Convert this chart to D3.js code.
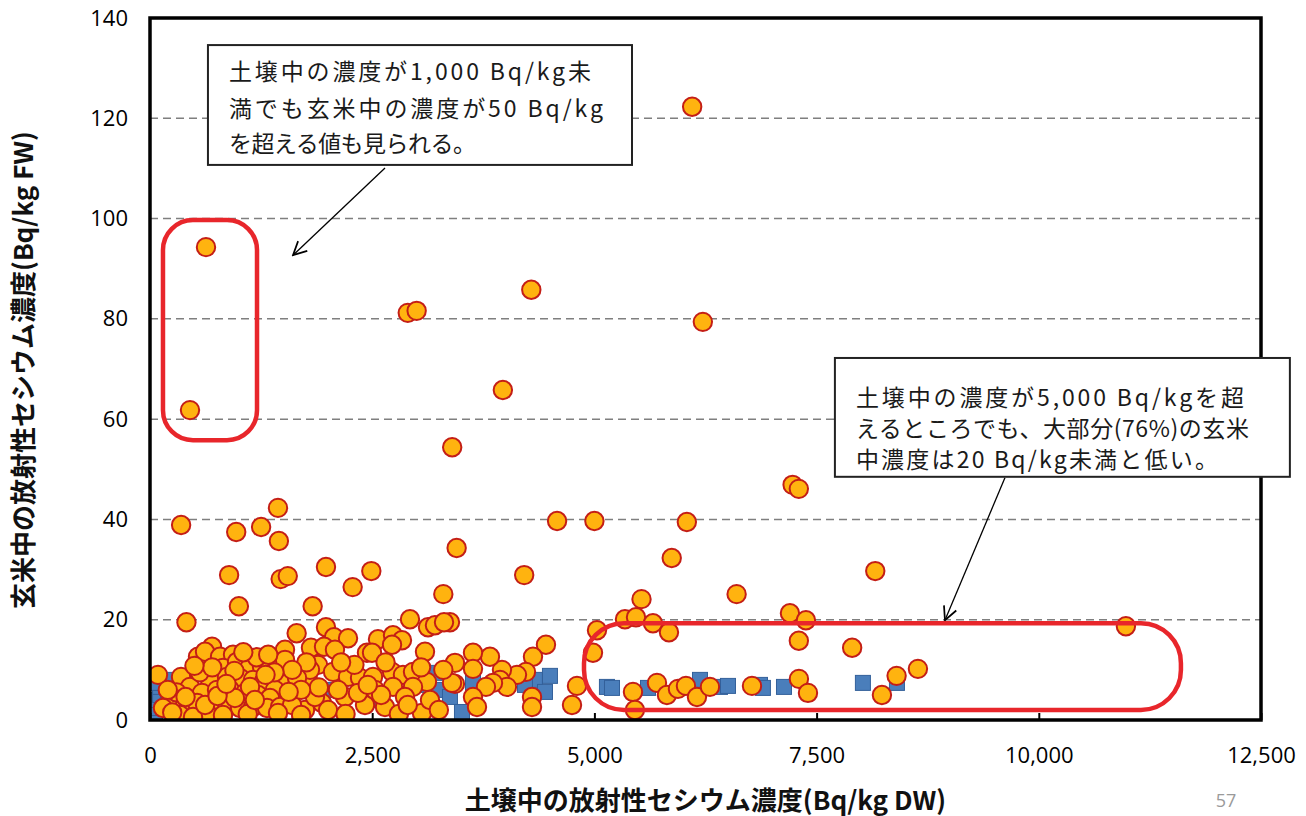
<!DOCTYPE html>
<html>
<head>
<meta charset="utf-8">
<script src="https://cdn.jsdelivr.net/npm/d3@7"></script>
<style>
	body { margin: 0; background: #fff; }
	text { font-family: "Open Sans", "Noto Sans", sans-serif; }
	.jp { font-family: "Noto Sans CJK JP", "Noto Sans", sans-serif; }
</style>
</head>
<body>
<svg id="chart" width="1306" height="816"></svg>
<script>
// Data ======================================================================

var xTicks = [0, 2500, 5000, 7500, 10000, 12500];
var yTicks = [0, 20, 40, 60, 80, 100, 120, 140];
var gridValues = [20, 40, 60, 80, 100, 120];

var xTitle = "土壌中の放射性セシウム濃度(Bq/kg DW)";
var yTitle = "玄米中の放射性セシウム濃度(Bq/kg FW)";
var pageNumber = "57";

var note1Lines = ["土壌中の濃度が1,000 Bq/kg未", "満でも玄米中の濃度が50 Bq/kg", "を超える値も見られる。"];
var note2Lines = ["土壌中の濃度が5,000 Bq/kgを超", "えるところでも、大部分(76%)の玄米", "中濃度は20 Bq/kg未満と低い。"];

// soil Bq/kg DW, rice Bq/kg FW
var squareData = [
	[56, 1.0], [79, 2.4], [90, 4.0], [113, 5.0], [113, 6.6], [225, 6.6], [225, 8.0],
	[60, 7.4], [200, 3.0], [300, 2.0], [500, 4.0], [1500, 5.0], [2000, 6.0], [2600, 4.0],
	[3000, 7.0], [3206, 9.4], [3240, 6.0], [3634, 7.4], [3375, 4.6], [3510, 1.6],
	[4331, 8.0], [4500, 8.8], [4444, 5.6], [4219, 7.0], [5141, 6.6], [5198, 6.4],
	[5603, 6.4], [6188, 8.0], [6413, 6.6], [6503, 6.8], [6863, 7.0], [6896, 6.4],
	[7133, 6.6], [8021, 7.4], [8404, 7.4]
];

var circleData = [
	// scattered high values
	[6100, 122.3], [630, 94.3], [450, 61.8], [2900, 81.2], [3000, 81.6], [4290, 85.8],
	[6220, 79.4], [3970, 65.8], [3400, 54.4], [350, 38.9], [1440, 42.3], [1450, 35.7],
	[970, 37.5], [1250, 38.5], [3450, 34.3], [4580, 39.7], [5000, 39.7], [6040, 39.5],
	[7230, 46.9], [7300, 46.1], [8160, 29.7], [5870, 32.3], [4210, 28.9], [1980, 30.5],
	[2490, 29.7], [2280, 26.5], [890, 28.9], [1000, 22.7], [1470, 28.1], [1550, 28.7],
	[1830, 22.7], [410, 19.5], [3300, 25.1], [6600, 25.1], [5530, 24.1], [7200, 21.3],
	[7380, 19.9], [7300, 15.8], [7900, 14.4], [10980, 18.7], [8640, 10.2], [8400, 8.8],
	[8235, 5.0],
	// 5,000 - 7,500
	[5344, 20.1], [5468, 20.5], [5659, 19.3], [5839, 17.5], [5434, 5.6], [5456, 2.0],
	[5704, 7.4], [5816, 5.0], [5940, 6.2], [6030, 6.8], [6154, 4.6], [6300, 6.6],
	[6773, 6.8], [7301, 8.2], [7403, 5.4],
	// 3,300 - 5,000
	[5029, 17.9], [4984, 13.4], [4804, 6.8], [4748, 3.0], [4455, 15.0], [4309, 12.6],
	[4230, 9.6], [4129, 9.0], [4298, 4.6], [4298, 2.6], [3960, 10.0], [3938, 8.0],
	[3825, 12.6], [4016, 6.6], [3859, 7.4], [3780, 6.6], [3634, 13.4], [3634, 10.2],
	[3431, 11.4], [3431, 7.2], [3634, 4.6], [3679, 2.6], [3375, 19.5],
	// 1,600 - 3,300
	[2925, 20.1], [3128, 18.5], [3206, 18.9], [3308, 19.5], [1980, 18.5], [2070, 16.5],
	[2228, 16.3], [2565, 16.1], [2734, 16.9], [2835, 15.9], [2723, 15.0], [1811, 14.4],
	[1958, 14.6], [2081, 14.0], [2441, 13.4], [2498, 13.4], [3094, 13.6], [1890, 11.0],
	[1778, 8.0], [2059, 9.6], [2228, 8.6], [2363, 8.4], [2509, 8.6], [2723, 9.6],
	[2846, 9.0], [2959, 9.6], [3116, 7.6], [2734, 6.6], [2959, 6.6], [2194, 4.6],
	[2419, 3.0], [2644, 2.6], [1935, 3.4], [1744, 2.0], [3060, 1.4], [3150, 4.0],
	[3398, 7.4], [2115, 6.0], [2340, 5.4], [2531, 6.0], [2869, 4.6], [1856, 4.6],
	[2003, 2.0], [2300, 11.0], [2650, 11.5], [3300, 10.0], [3250, 2.0], [2600, 5.0],
	[2800, 1.2], [2200, 1.2], [1900, 6.5], [2450, 7.0], [2900, 3.0], [3050, 10.5],
	[2150, 11.5], [1800, 10.0],
	// 0 - 1,600
	[1650, 17.3], [698, 14.6], [540, 12.6], [619, 13.6], [788, 12.6], [934, 13.0],
	[90, 9.0], [349, 8.6], [450, 6.6], [675, 8.0], [821, 10.4], [979, 11.6], [1125, 10.6],
	[1260, 10.6], [1350, 11.4], [1519, 14.0], [1519, 12.0], [1496, 8.6], [1654, 8.4],
	[1013, 8.4], [866, 8.6], [1159, 8.0], [1271, 7.4], [1406, 6.0], [585, 5.4], [754, 6.0],
	[900, 6.0], [1069, 5.4], [1215, 5.0], [1350, 4.4], [259, 3.4], [146, 2.4], [394, 3.0],
	[529, 3.4], [709, 3.4], [866, 3.4], [1013, 2.4], [1159, 2.6], [1316, 2.4], [1463, 2.6],
	[1598, 3.0], [641, 1.4], [338, 1.0], [484, 0.6], [821, 1.0], [956, 4.4], [1125, 6.6],
	[1700, 6.0], [1760, 11.5], [1600, 10.0], [1400, 9.5], [560, 9.5], [300, 5.5],
	[200, 6.0], [620, 3.0], [1100, 1.2], [1700, 1.0], [1200, 12.5], [700, 10.5],
	[500, 10.8], [250, 1.5], [950, 9.8], [1050, 13.5], [1330, 13.0], [760, 4.8],
	[1180, 4.0], [400, 4.6], [1560, 5.6], [1440, 1.4], [860, 7.2], [1300, 9.0]
];

// Layout ====================================================================

var width = 1306;
var height = 816;
var plot = { left: 150, right: 1261, top: 18, bottom: 720 };

var svg = d3.select("#chart");

var xScale = d3.scaleLinear()
	.domain([0, 12500])
	.range([plot.left, plot.right]);

var yScale = d3.scaleLinear()
	.domain([0, 140])
	.range([plot.bottom, plot.top]);

// annotation geometry in data units
var highBox = { x0: 146, x1: 1204, y0: 55.8, y1: 99.7, r: 30 };
var lowBox = { x0: 4883, x1: 11599, y0: 2.0, y1: 19.3, r: 40 };

var note1 = { x0: 652, x1: 5423, y0: 110.7, y1: 134.6, lines: note1Lines,
	base: [35, 72, 107], lens: [362, 374, 247] };
var note2 = { x0: 7706, x1: 12825, y0: 48.5, y1: 72.2, lines: note2Lines,
	base: [48, 79, 110], lens: [388, 393, 362] };

var arrows = [
	{ from: [2644, 110.1], to: [1609, 92.7] },
	{ from: [9619, 48.3], to: [8944, 19.9] }
];

// Grid ======================================================================

svg.append("rect")
	.attr("width", width)
	.attr("height", height)
	.attr("fill", "#fff");

svg.append("g")
	.attr("class", "grid")
	.selectAll("line")
	.data(gridValues)
	.enter()
	.append("line")
	.attr("x1", plot.left)
	.attr("x2", plot.right)
	.attr("y1", function(d) { return yScale(d) })
	.attr("y2", function(d) { return yScale(d) })
	.attr("stroke", "#7f7f7f")
	.attr("stroke-width", 1.5)
	.attr("stroke-dasharray", "8,5");

// Points ====================================================================

svg.append("clipPath")
	.attr("id", "plot-clip")
	.append("rect")
	.attr("x", plot.left)
	.attr("y", plot.top)
	.attr("width", plot.right - plot.left)
	.attr("height", plot.bottom - plot.top);

var pointsG = svg.append("g").attr("clip-path", "url(#plot-clip)");

var sq = 15;
pointsG.append("g")
	.selectAll("rect")
	.data(squareData)
	.enter()
	.append("rect")
	.attr("x", function(d) { return xScale(d[0]) - sq / 2 })
	.attr("y", function(d) { return yScale(d[1]) - sq / 2 })
	.attr("width", sq)
	.attr("height", sq)
	.attr("fill", "#4a7ebb")
	.attr("stroke", "#33609a")
	.attr("stroke-width", 1);

pointsG.append("g")
	.selectAll("circle")
	.data(circleData)
	.enter()
	.append("circle")
	.attr("cx", function(d) { return xScale(d[0]) })
	.attr("cy", function(d) { return yScale(d[1]) })
	.attr("r", 9.2)
	.attr("fill", "#ffb30f")
	.attr("stroke", "#c41e16")
	.attr("stroke-width", 2);

// Red highlight boxes =======================================================

[highBox, lowBox].forEach(function(b) {
	svg.append("rect")
		.attr("x", xScale(b.x0))
		.attr("y", yScale(b.y1))
		.attr("width", xScale(b.x1) - xScale(b.x0))
		.attr("height", yScale(b.y0) - yScale(b.y1))
		.attr("rx", b.r)
		.attr("ry", b.r)
		.attr("fill", "none")
		.attr("stroke", "#e8262b")
		.attr("stroke-width", 4.5);
});

// Frame and axes ============================================================

svg.append("rect")
	.attr("x", plot.left)
	.attr("y", plot.top)
	.attr("width", plot.right - plot.left)
	.attr("height", plot.bottom - plot.top)
	.attr("fill", "none")
	.attr("stroke", "#000")
	.attr("stroke-width", 3.5);

var xAxis = d3.axisBottom(xScale)
	.tickValues(xTicks)
	.tickSizeInner(-7)
	.tickSizeOuter(0)
	.tickFormat(d3.format(",d"));

var yAxis = d3.axisLeft(yScale)
	.tickValues(yTicks)
	.tickSizeInner(0)
	.tickSizeOuter(0);

svg.append("g")
	.attr("class", "x-axis")
	.attr("transform", "translate(0," + plot.bottom + ")")
	.call(xAxis)
	.call(function(g) {
		g.select(".domain").remove();
		g.selectAll(".tick line").attr("stroke", "#000").attr("stroke-width", 2);
		g.selectAll(".tick text")
			.attr("y", 27)
			.attr("fill", "#000")
			.style("font-size", "22px")
			.style("font-family", "'Open Sans', sans-serif");
	});

svg.append("g")
	.attr("class", "y-axis")
	.attr("transform", "translate(" + plot.left + ",0)")
	.call(yAxis)
	.call(function(g) {
		g.select(".domain").remove();
		g.selectAll(".tick line").remove();
		g.selectAll(".tick text")
			.attr("x", -22)
			.attr("fill", "#000")
			.style("font-size", "22px")
			.style("font-family", "'Open Sans', sans-serif");
	});

// Titles ====================================================================

svg.append("text")
	.attr("class", "jp")
	.attr("x", (plot.left + plot.right) / 2)
	.attr("y", 810)
	.attr("text-anchor", "middle")
	.attr("font-weight", "bold")
	.attr("font-size", 26)
	.attr("fill", "#111")
	.text(xTitle);

svg.append("text")
	.attr("class", "jp")
	.attr("transform", "translate(33," + 370 + ") rotate(-90)")
	.attr("text-anchor", "middle")
	.attr("font-weight", "bold")
	.attr("font-size", 26)
	.attr("fill", "#111")
	.text(yTitle);

svg.append("text")
	.attr("x", 1226)
	.attr("y", 807)
	.attr("text-anchor", "middle")
	.attr("font-size", 18)
	.attr("fill", "#9a9a9a")
	.text(pageNumber);

// Arrows ====================================================================

var defs = svg.append("defs");
defs.append("marker")
	.attr("id", "open-arrow")
	.attr("viewBox", "0 0 12 12")
	.attr("refX", 11)
	.attr("refY", 6)
	.attr("markerWidth", 16)
	.attr("markerHeight", 16)
	.attr("markerUnits", "userSpaceOnUse")
	.attr("orient", "auto")
	.append("path")
	.attr("d", "M1,1 L11,6 L1,11")
	.attr("fill", "none")
	.attr("stroke", "#000")
	.attr("stroke-width", 1.3);

svg.append("g")
	.selectAll("line")
	.data(arrows)
	.enter()
	.append("line")
	.attr("x1", function(d) { return xScale(d.from[0]) })
	.attr("y1", function(d) { return yScale(d.from[1]) })
	.attr("x2", function(d) { return xScale(d.to[0]) })
	.attr("y2", function(d) { return yScale(d.to[1]) })
	.attr("stroke", "#000")
	.attr("stroke-width", 1.3)
	.attr("marker-end", "url(#open-arrow)");

// Callout boxes =============================================================

[note1, note2].forEach(function(n) {
	var bx = xScale(n.x0);
	var by = yScale(n.y1);
	var g = svg.append("g");
	g.append("rect")
		.attr("x", bx)
		.attr("y", by)
		.attr("width", xScale(n.x1) - bx)
		.attr("height", yScale(n.y0) - by)
		.attr("fill", "#fff")
		.attr("stroke", "#222")
		.attr("stroke-width", 2);
	g.selectAll("text")
		.data(n.lines)
		.enter()
		.append("text")
		.attr("class", "jp")
		.attr("x", bx + 21)
		.attr("y", function(d, i) { return by + n.base[i] })
		.attr("font-size", 23)
		.attr("fill", "#1a1a1a")
		.attr("textLength", function(d, i) { return n.lens[i] })
		.attr("lengthAdjust", "spacing")
		.text(function(d) { return d });
});
</script>
</body>
</html>
